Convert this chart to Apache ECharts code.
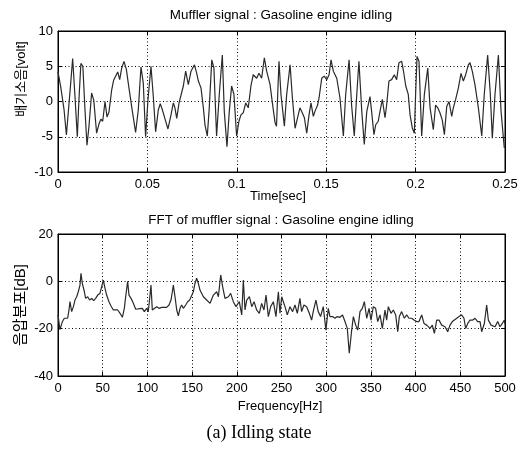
<!DOCTYPE html>
<html><head><meta charset="utf-8">
<script src="https://cdn.jsdelivr.net/npm/echarts@6/dist/echarts.min.js"></script>
<style>html,body{margin:0;padding:0;background:#fff}#c{width:527px;height:453px}</style>
</head><body><div id="c"></div>
<script>
const timeSec = [
0, .0015, .0034, .0047, .0058, .0071, .0082, .0095, .0108, .0117,
.0128, .0139, .0151, .0162, .0173, .0188, .0200, .0216, .0229, .0240,
.0250, .0263, .0274, .0285, .0300, .0311, .0322, .0334, .0345, .0356,
.0369, .0382, .0397, .0416, .0434, .0449, .0464, .0477, .0490, .0503,
.0520, .0533, .0546, .0561, .0572, .0584, .0600, .0615, .0632, .0645,
.0654, .0664, .0677, .0688, .0701, .0714, .0729, .0744, .0763, .0776,
.0785, .0800, .0813, .0822, .0835, .0846, .0860, .0872, .0887, .0902,
.0919, .0930, .0945, .0958, .0971, .0984, .0999, .1012, .1023, .1036,
.1050, .1064, .1079, .1092, .1102, .1111, .1124, .1139, .1154, .1167,
.1186, .1199, .1214, .1222, .1236, .1247, .1266, .1279, .1298, .1311,
.1326, .1340, .1353, .1366, .1378, .1391, .1404, .1415, .1428, .1437,
.1452, .1460, .1475, .1489, .1503, .1516, .1527, .1540, .1559, .1577,
.1596, .1609, .1628, .1642, .1657, .1671, .1683, .1699, .1713, .1727,
.1745, .1754, .1767, .1777, .1791, .1801, .1814, .1829, .1838, .1851,
.1866, .1881, .1894, .1907, .1922, .1931, .1945, .1959, .1969, .1982,
.1993, .2000, .2008, .2019, .2034, .2049, .2068, .2081, .2099, .2112,
.2124, .2136, .2149, .2161, .2174, .2187, .2202, .2211, .2224, .2239,
.2254, .2267, .2280, .2295, .2304, .2317, .2332, .2351, .2370, .2384,
.2403, .2418, .2429, .2444, .2463, .2478, .2496];
const voltage = [
4.2, 2.1, -1.2, -4.75, -4.5, 2.6, 6.1, 0.7, -5.0, 0.2,
5.4, 5.0, -1.2, -6.2, -3.6, 1.2, 0.2, -4.5, -3.2, -2.5,
-2.8, 0, -2.2, -1.5, 1.6, 3.0, 2.9, 4.2, 3.1, 4.7,
5.7, 4.6, 1.9, -1.4, -4.4, -1.2, 4.9, 2.6, -5.0, 0.2,
5.0, 0.7, -4.3, -1.2, -0.3, -1.2, -2.6, -3.9, -1.9, -0.2,
-0.9, -2.4, -0.2, 0, 2.2, 4.3, 2.4, 4.3, 5.2, 4.0,
2.9, 1.9, -0.9, -3.3, -4.9, -0.9, 5.9, 4.75, -4.9, 1.0,
6.6, -1.4, -6.4, -1.4, 2.2, 1.0, -4.9, -2.8, -1.9, -1.6,
-0.2, -0.9, 2.2, 3.8, 4.0, 3.3, 4.0, 3.3, 6.2, 4.3,
2.4, -0.2, -3.0, -3.5, 5.7, 1.0, -3.5, 1.0, 5.2, 0.5,
-3.8, -2.3, -0.9, -1.6, -2.3, -4.5, -1.9, -0.2, -2.1, -1.4,
-0.5, 0.5, 3.3, 3.6, 3.1, 3.8, 5.9, 4.3, 3.3, 0.5,
-4.9, 1.0, 5.9, -0.5, -4.9, 1.0, 5.7, -1.4, -6.1, -1.4,
0.7, -1.4, -4.7, -3.3, -2.8, -1.4, 0.3, -2.3, -0.5, 2.9,
3.1, 3.8, 3.1, 5.5, 5.7, 4.5, 2.2, 1.0, -1.9, -3.8,
-4.5, 1.0, 6.4, 5.7, -4.9, 1.0, 4.75, -0.9, -4.0, -0.5,
-0.9, -1.6, -2.6, -4.7, -0.7, 0, -2.1, -0.9, 0.3, 1.9,
4.0, 2.9, 3.8, 5.2, 5.5, 4.3, 2.4, -0.9, -4.9, 1.0,
6.6, 1.0, -5.2, 1.0, 6.6, -1.4, -6.6];

const freqHz = [
0, 2.2, 4.8, 7.1, 8.6, 10.8, 12.3, 13.4, 15.3, 17.2,
19, 20.9, 22.7, 24.6, 25.7, 27.2, 29.5, 30.9, 33.2, 35.4,
37.7, 39.9, 42.1, 44.4, 46.9, 48.8, 50.7, 52.6, 54.4, 57,
59.3, 61.9, 63.8, 66.8, 69.4, 72, 74.2, 75.7, 77.9, 79.4,
81.7, 84.3, 86.9, 89.1, 91.7, 94.3, 96.6, 99.2, 101, 102.9,
104, 105.5, 107.7, 110.4, 113, 115.9, 118.9, 121.5, 124.2, 126.4,
127.9, 129, 130.9, 132.8, 134.6, 136.5, 138.3, 140.2, 142.8, 145,
147.3, 149.5, 151.4, 153.2, 155.1, 157, 158.8, 162.6, 166.3, 170.1,
173.8, 177.5, 179.4, 182, 184.2, 186.8, 190.6, 193.1, 196.1, 199.1,
202.8, 205.5, 207.3, 209.2, 211.1, 214.1, 216.7, 219.3, 222.2, 225.2,
227.8, 230.4, 232.7, 235.3, 237.9, 240.9, 243.8, 246.5, 248.3, 250.2,
253.9, 256.5, 259.5, 262.4, 265.1, 267.7, 270.6, 272.5, 275.1, 278.1,
281.1, 283.7, 285.5, 288.5, 291.1, 293.7, 296.7, 299.7, 302.3, 304.2,
307.2, 309.8, 312.4, 315.4, 318.3, 321, 323.6, 325.8, 328.5, 330.4,
333, 335.3, 337.8, 340.4, 342.7, 345.3, 347.9, 350.1, 352.7, 355.3,
357.6, 360.2, 362.8, 365.8, 367.6, 369.5, 372.5, 375.1, 377.7, 380,
381.8, 384.4, 387.4, 390, 392.6, 395.6, 398.6, 401.2, 403.8, 406.8,
409.4, 412.4, 416.1, 418.7, 421, 423.6, 426.2, 429.2, 432.9, 435.9,
438.5, 441.1, 443.3, 446, 448.6, 451.5, 454.1, 456, 458.3, 460.9,
463.5, 466.5, 469.4, 472.1, 473.9, 476.9, 479.5, 481.4, 484.4, 485.9,
488.9, 491.8, 494.4, 497, 499.3, 500];
const levelDb = [
-14.2, -20.4, -17.1, -15.6, -16.4, -15.6, -12.1, -8.6, -12.8, -10.7,
-7.9, -6.5, -4.4, -1.6, 3.4, -0.9, -4.4, -7.2, -6.5, -7.9,
-7.2, -8.2, -7.2, -5.8, -5.1, -2.3, 0.5, -3.0, -5.8, -8.6,
-10.4, -12.1, -12.8, -12.1, -13.5, -15.2, -11.4, -6.5, 0, -5.8,
-7.2, -9.3, -11.8, -11.0, -11.5, -11.4, -12.8, -11.4, -12.8, -5.8,
-1.6, -12.1, -12.1, -10.7, -11.4, -11.0, -11.0, -11.0, -10.0, -7.9,
-4.4, -1.6, -6.5, -12.1, -14.6, -11.4, -10.0, -11.4, -10.0, -8.6,
-7.9, -7.2, -4.4, -0.9, 1.3, -0.9, -3.7, -6.5, -7.9, -9.3,
-5.8, -4.4, -6.5, 2.7, -2.3, -7.2, -6.5, -5.1, -8.6, -10.7,
-8.6, -14.2, 0.5, -12.1, -7.9, -6.5, -10.7, -8.6, -12.1, -13.5,
-9.3, -12.1, -5.8, -14.9, -10.7, -8.6, -14.9, -4.4, -13.5, -6.5,
-10.7, -14.2, -10.7, -12.8, -10.0, -13.5, -7.2, -12.8, -10.0, -10.7,
-13.5, -16.4, -12.8, -7.9, -12.8, -14.9, -10.7, -20.6, -11.4, -14.9,
-14.9, -15.6, -14.9, -15.2, -14.2, -17.0, -19.9, -30.4, -20.6, -14.9,
-18.5, -20.6, -12.8, -11.4, -8.6, -15.6, -11.4, -16.4, -10.7, -11.4,
-17.0, -14.2, -19.9, -12.1, -16.4, -10.7, -13.5, -12.1, -14.2, -21.3,
-14.9, -12.8, -15.6, -14.2, -15.6, -15.6, -16.4, -17.0, -17.0, -14.2,
-17.8, -18.5, -19.9, -18.5, -22.0, -16.4, -16.4, -18.5, -19.2, -21.3,
-18.5, -17.0, -16.4, -15.6, -14.9, -14.2, -15.6, -19.9, -17.8, -16.4,
-16.4, -15.6, -17.0, -17.0, -21.3, -17.8, -10.0, -16.4, -18.5, -17.8,
-19.2, -17.0, -19.2, -17.8, -16.4, -18.0];

const timeTickLabels = ['0', '0.05', '0.1', '0.15', '0.2', '0.25'];
const voltTickLabels = ['-10', '-5', '0', '5', '10'];
const freqTickLabels = ['0','50','100','150','200','250','300','350','400','450','500'];
const dbTickLabels = ['-40', '-20', '0', '20'];

const FONT = "'Liberation Sans', Arial, 'Noto Sans CJK KR', sans-serif";
const chart = echarts.init(document.getElementById('c'), null, {renderer: 'canvas'});

function xAx(grid, min, max, interval, labels, pos) {
  const main = pos === 'bottom';
  return {
    type: 'value', gridIndex: grid, position: pos, min, max, interval,
    axisLine: {show: true, onZero: false, lineStyle: {color: '#000', width: 1}},
    axisTick: {show: true, inside: true, length: 4, lineStyle: {color: '#000'}},
    axisLabel: {show: main, margin: 6, color: '#000', fontSize: 13, fontFamily: FONT,
      formatter: (v, i) => labels[i]},
    splitLine: {show: main, lineStyle: {color: '#000', width: 1, type: [1, 2.5]}}
  };
}
function yAx(grid, min, max, interval, labels, pos) {
  const main = pos === 'left';
  return {
    type: 'value', gridIndex: grid, position: pos, min, max, interval,
    axisLine: {show: true, onZero: false, lineStyle: {color: '#000', width: 1}},
    axisTick: {show: true, inside: true, length: 4, lineStyle: {color: '#000'}},
    axisLabel: {show: main, margin: 5, color: '#000', fontSize: 13, fontFamily: FONT,
      formatter: (v, i) => labels[i]},
    splitLine: {show: main, lineStyle: {color: '#000', width: 1, type: [1, 2.5]}}
  };
}
function txt(text, x, y, size, opts) {
  opts = opts || {};
  return {
    type: 'text', x, y, rotation: opts.rot || 0, silent: true,
    style: {text, fill: '#000', font: (size) + 'px ' + (opts.family || FONT),
      textAlign: 'center', textVerticalAlign: 'middle', verticalAlign: 'middle'}
  };
}

const option = {
  animation: false,
  backgroundColor: '#fff',
  grid: [
    {left: 58, top: 31, width: 447, height: 141, show: true, borderColor: '#000', borderWidth: 1, backgroundColor: '#fff'},
    {left: 58, top: 234, width: 447, height: 142, show: true, borderColor: '#000', borderWidth: 1, backgroundColor: '#fff'}
  ],
  xAxis: [
    xAx(0, 0, 0.25, 0.05, timeTickLabels, 'bottom'),
    xAx(0, 0, 0.25, 0.05, timeTickLabels, 'top'),
    xAx(1, 0, 500, 50, freqTickLabels, 'bottom'),
    xAx(1, 0, 500, 50, freqTickLabels, 'top')
  ],
  yAxis: [
    yAx(0, -10, 10, 5, voltTickLabels, 'left'),
    yAx(0, -10, 10, 5, voltTickLabels, 'right'),
    yAx(1, -40, 20, 20, dbTickLabels, 'left'),
    yAx(1, -40, 20, 20, dbTickLabels, 'right')
  ],
  series: [
    {type: 'line', xAxisIndex: 0, yAxisIndex: 0, showSymbol: false, symbol: 'none',
     data: timeSec.map((t, i) => [t, voltage[i]]),
     lineStyle: {color: '#2a2a2a', width: 1.2}},
    {type: 'line', xAxisIndex: 2, yAxisIndex: 2, showSymbol: false, symbol: 'none',
     data: freqHz.map((f, i) => [f, levelDb[i]]),
     lineStyle: {color: '#2a2a2a', width: 1.2}}
  ],
  graphic: [
    txt('Muffler signal : Gasoline engine idling', 281, 15, 13.4),
    txt('Time[sec]', 278, 196, 13),
    txt('배기소음[volt]', 21, 79, 13, {rot: Math.PI / 2}),
    txt('FFT of muffler signal : Gasoline engine idling', 281, 220, 13.4),
    txt('Frequency[Hz]', 280, 406, 13),
    txt('음압분포[dB]', 21, 305, 15, {rot: Math.PI / 2}),
    txt('(a) Idling state', 259, 433, 18, {family: "'Liberation Serif', 'Times New Roman', serif"})
  ]
};
chart.setOption(option);
</script>
</body></html>
